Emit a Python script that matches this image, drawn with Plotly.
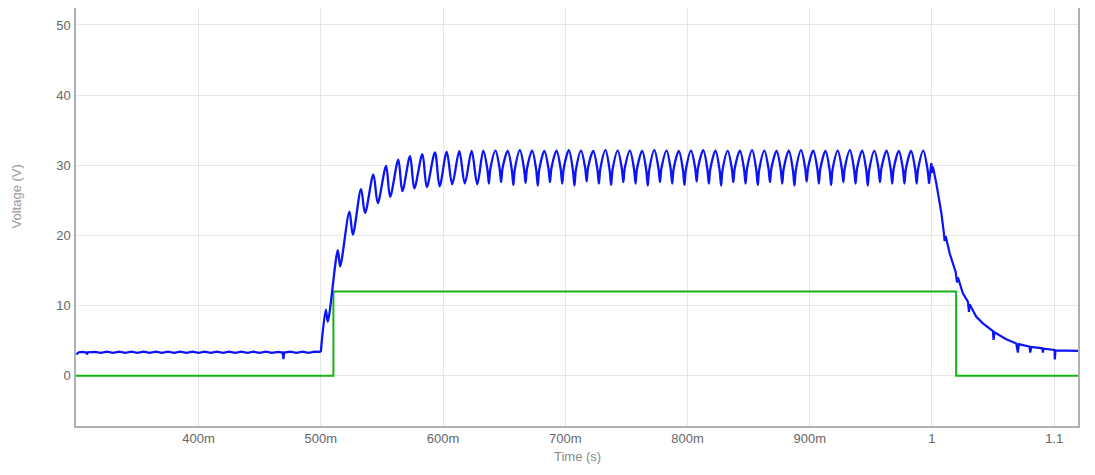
import plotly.graph_objects as go

# ---------------- data ----------------
# green: control step (V)
green_t = [0.2997, 0.5103, 0.5103, 1.0198, 1.0198, 1.1195]
green_v = [0.0, 0.0, 12.0, 12.0, 0.0, 0.0]

# blue: baseline before the step
base_t = [0.3000, 0.3020, 0.3050, 0.3082, 0.3087, 0.3095, 0.3150, 0.3200, 0.3250, 0.3300,
          0.3350, 0.3400, 0.3450, 0.3500, 0.3550, 0.3600, 0.3650, 0.3700, 0.3750, 0.3800,
          0.3850, 0.3900, 0.3950, 0.4000, 0.4050, 0.4100, 0.4150, 0.4200, 0.4250, 0.4300,
          0.4350, 0.4400, 0.4450, 0.4500, 0.4550, 0.4600, 0.4650, 0.4688, 0.4694, 0.4700,
          0.4750, 0.4800, 0.4850, 0.4900, 0.4950, 0.5000]
base_v = [3.05, 3.35, 3.40, 3.30, 3.05, 3.35, 3.40, 3.25, 3.42, 3.25,
          3.42, 3.25, 3.42, 3.25, 3.42, 3.25, 3.42, 3.25, 3.42, 3.25,
          3.42, 3.25, 3.42, 3.25, 3.42, 3.25, 3.42, 3.25, 3.42, 3.25,
          3.42, 3.25, 3.42, 3.25, 3.42, 3.25, 3.40, 3.30, 2.35, 3.30,
          3.42, 3.25, 3.42, 3.25, 3.42, 3.40]

# blue: rising envelope (alternating peaks and dips)
rise_t = [0.5000, 0.5041, 0.5057, 0.5139, 0.5158, 0.5234, 0.5262, 0.5329, 0.5362, 0.5430,
          0.5466, 0.5534, 0.5567, 0.5634, 0.5667, 0.5730, 0.5765, 0.5831, 0.5867, 0.5934,
          0.5972, 0.6030, 0.6075, 0.6133, 0.6178, 0.6234, 0.6280]
rise_v = [3.40, 9.40, 7.70, 17.90, 15.60, 23.40, 20.10, 26.60, 23.20, 28.70,
          24.60, 29.90, 25.50, 30.80, 26.30, 31.30, 26.70, 31.60, 26.90, 31.85,
          27.00, 31.90, 27.30, 32.00, 27.40, 32.05, 27.30]

# blue: steady ripple -- peaks
peak_t = [0.6329, 0.6429, 0.6529, 0.6629, 0.6729, 0.6829, 0.6929, 0.7029, 0.7129, 0.7229,
          0.7329, 0.7429, 0.7529, 0.7629, 0.7729, 0.7829, 0.7929, 0.8029, 0.8129, 0.8229,
          0.8329, 0.8429, 0.8529, 0.8629, 0.8729, 0.8829, 0.8929, 0.9029, 0.9129, 0.9229,
          0.9329, 0.9429, 0.9529, 0.9629, 0.9729, 0.9829, 0.9929]
peak_v = [32.10, 32.10, 32.05, 32.15, 32.10, 32.05, 32.10, 32.15, 32.10, 32.05,
          32.15, 32.10, 32.10, 32.05, 32.15, 32.10, 32.05, 32.10, 32.15, 32.10,
          32.05, 32.10, 32.15, 32.10, 32.05, 32.10, 32.15, 32.10, 32.05, 32.10,
          32.15, 32.10, 32.05, 32.10, 32.05, 32.05, 32.10]
# steady ripple -- point just before each trough
pre_t = [0.6363, 0.6463, 0.6563, 0.6663, 0.6763, 0.6863, 0.6963, 0.7063, 0.7163, 0.7263,
         0.7363, 0.7463, 0.7563, 0.7663, 0.7763, 0.7863, 0.7963, 0.8063, 0.8163, 0.8263,
         0.8363, 0.8463, 0.8563, 0.8663, 0.8763, 0.8863, 0.8963, 0.9063, 0.9163, 0.9263,
         0.9363, 0.9463, 0.9563, 0.9663, 0.9763, 0.9863, 0.9964]
pre_v = [29.40, 29.50, 29.30, 29.45, 29.25, 29.50, 29.40, 29.25, 29.60, 29.40,
         29.30, 29.50, 29.40, 29.25, 29.50, 29.40, 29.30, 29.60, 29.40, 29.25,
         29.50, 29.40, 29.30, 29.50, 29.40, 29.25, 29.60, 29.40, 29.30, 29.50,
         29.40, 29.25, 29.50, 29.40, 29.40, 29.40, 29.40]
# steady ripple -- troughs
trough_t = [0.6375, 0.6475, 0.6575, 0.6675, 0.6775, 0.6875, 0.6975, 0.7075, 0.7175, 0.7275,
            0.7375, 0.7475, 0.7575, 0.7675, 0.7775, 0.7875, 0.7975, 0.8075, 0.8175, 0.8275,
            0.8375, 0.8475, 0.8575, 0.8675, 0.8775, 0.8875, 0.8975, 0.9075, 0.9175, 0.9275,
            0.9375, 0.9475, 0.9575, 0.9675, 0.9775, 0.9875, 0.9976]
trough_v = [27.40, 27.60, 27.20, 27.50, 27.10, 27.60, 27.40, 27.10, 27.70, 27.40,
            27.20, 27.60, 27.40, 27.10, 27.60, 27.40, 27.20, 27.70, 27.40, 27.10,
            27.60, 27.40, 27.20, 27.60, 27.40, 27.10, 27.70, 27.40, 27.20, 27.60,
            27.40, 27.10, 27.60, 27.40, 27.40, 27.40, 27.40]
# steady ripple -- point just after each trough (none after the last one)
post_t = [0.6387, 0.6487, 0.6587, 0.6687, 0.6787, 0.6887, 0.6987, 0.7087, 0.7187, 0.7287,
          0.7387, 0.7487, 0.7587, 0.7687, 0.7787, 0.7887, 0.7987, 0.8087, 0.8187, 0.8287,
          0.8387, 0.8487, 0.8587, 0.8687, 0.8787, 0.8887, 0.8987, 0.9087, 0.9187, 0.9287,
          0.9387, 0.9487, 0.9587, 0.9687, 0.9787, 0.9887]
post_v = [29.50, 29.60, 29.40, 29.55, 29.35, 29.60, 29.50, 29.35, 29.70, 29.50,
          29.40, 29.60, 29.50, 29.35, 29.60, 29.50, 29.40, 29.70, 29.50, 29.35,
          29.60, 29.50, 29.40, 29.60, 29.50, 29.35, 29.70, 29.50, 29.40, 29.60,
          29.50, 29.35, 29.60, 29.50, 29.50, 29.50]

# blue: decay after the step falls
decay_t = [0.9976, 0.9995, 1.0003, 1.0008, 1.0036, 1.0077, 1.0098, 1.0104, 1.0112, 1.0145,
           1.0194, 1.0200, 1.0205, 1.0213, 1.0253, 1.0294, 1.0303, 1.0308, 1.0363, 1.0417,
           1.0499, 1.0504, 1.0512, 1.0608, 1.0690, 1.0703, 1.0711, 1.0799, 1.0804, 1.0813,
           1.0903, 1.0908, 1.0913, 1.1003, 1.1005, 1.1011, 1.1099, 1.1195]
decay_v = [27.40, 30.30, 28.90, 29.80, 27.40, 23.20, 20.30, 19.20, 19.90, 17.45,
           14.80, 13.80, 13.30, 14.00, 11.75, 10.55, 9.10, 10.20, 8.40, 7.47,
           6.37, 5.10, 6.20, 5.19, 4.60, 3.30, 4.50, 4.14, 3.30, 4.10,
           3.90, 3.30, 3.85, 3.66, 2.33, 3.60, 3.57, 3.55]

x_tickvals = [0.4, 0.5, 0.6, 0.7, 0.8, 0.9, 1.0, 1.1]
x_ticktext = ["400m", "500m", "600m", "700m", "800m", "900m", "1", "1.1"]
y_tickvals = [0, 10, 20, 30, 40, 50]

BLUE = "#0a14f5"
GREEN = "#14b414"

# assemble the ripple from the literal lists above (sorted by time)
ripple_pts = list(zip(peak_t, peak_v)) + list(zip(pre_t, pre_v)) + \
             list(zip(trough_t, trough_v)) + list(zip(post_t, post_v))
ripple_pts.sort(key=lambda p: p[0])
mid_t = rise_t + [p[0] for p in ripple_pts]
mid_v = rise_v + [p[1] for p in ripple_pts]

fig = go.Figure()
fig.add_trace(go.Scatter(x=green_t, y=green_v, mode="lines",
                         line=dict(color=GREEN, width=2), hoverinfo="skip"))
fig.add_trace(go.Scatter(x=base_t, y=base_v, mode="lines",
                         line=dict(color=BLUE, width=2.2), hoverinfo="skip"))
fig.add_trace(go.Scatter(x=mid_t, y=mid_v, mode="lines",
                         line=dict(color=BLUE, width=2.3, shape="spline", smoothing=0.9),
                         hoverinfo="skip"))
fig.add_trace(go.Scatter(x=decay_t, y=decay_v, mode="lines",
                         line=dict(color=BLUE, width=2.2), hoverinfo="skip"))

font_family = "Liberation Sans, Arial, sans-serif"

# page body has an 8px default margin, so margins are offset to compensate
fig.update_layout(
    width=1095, height=475,
    margin=dict(l=68, r=25, t=0, b=57),
    paper_bgcolor="white", plot_bgcolor="white",
    showlegend=False,
    font=dict(family=font_family, size=13, color="#666666"),
    xaxis=dict(range=[0.2997, 1.1195], tickvals=x_tickvals, ticktext=x_ticktext,
               showgrid=True, gridcolor="#e6e6e6", gridwidth=1,
               showline=True, linecolor="#b0b0b0", linewidth=1.5,
               zeroline=False, ticks="", ticklabelstandoff=0,
               tickfont=dict(size=13, color="#666666")),
    yaxis=dict(range=[-7.17, 52.42], tickvals=y_tickvals,
               showgrid=True, gridcolor="#e6e6e6", gridwidth=1,
               showline=True, linecolor="#b0b0b0", linewidth=1.5, mirror=True,
               zeroline=False, ticks="", ticklabelstandoff=1,
               tickfont=dict(size=13, color="#666666")),
    annotations=[
        dict(text="Time (s)", xref="paper", yref="paper", x=0.5, y=-0.074,
             xanchor="center", yanchor="middle", showarrow=False,
             font=dict(size=13, color="#888888")),
        dict(text="Voltage (V)", xref="paper", yref="paper", x=-0.0595, y=0.55,
             xanchor="center", yanchor="middle", showarrow=False, textangle=-90,
             font=dict(size=13, color="#999999")),
    ],
    shapes=[
        dict(type="rect", xref="paper", yref="paper", x0=-0.08, x1=1.02,
             y0=-0.1340, y1=-0.1290, fillcolor="#d6e9f1", line=dict(width=0), layer="above"),
        dict(type="rect", xref="paper", yref="paper", x0=-0.053, x1=0.110,
             y0=-0.1340, y1=-0.1290, fillcolor="#ffffff", line=dict(color="#c8c8c8", width=1),
             layer="above"),
    ],
)

fig.write_html("out.html")
